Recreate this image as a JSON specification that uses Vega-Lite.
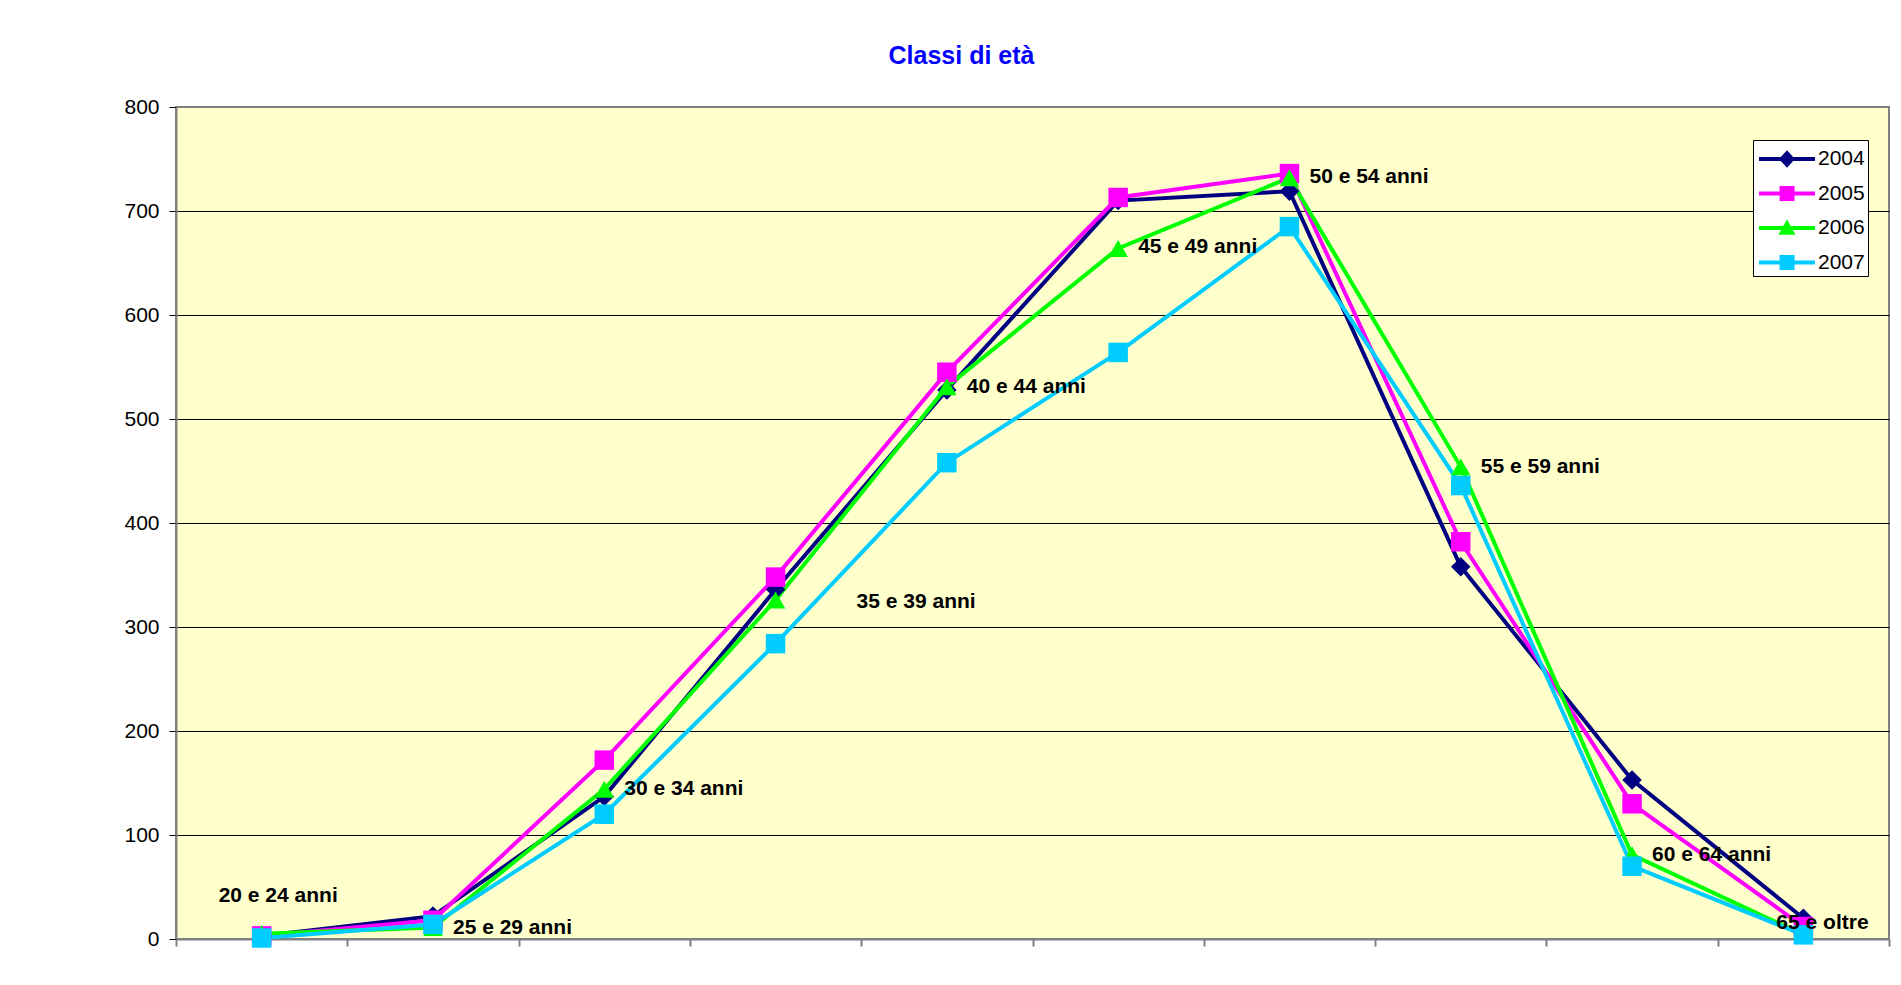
{
  "$schema": "https://vega.github.io/schema/vega-lite/v6.json",
  "width": 1713,
  "height": 832,
  "autosize": {"type": "none"},
  "padding": {"left": 176, "top": 107, "right": 12, "bottom": 46},
  "background": "white",
  "title": {"text": "Classi di età", "color": "#0000FF", "font": "Liberation Sans", "fontSize": 25, "fontWeight": "bold", "anchor": "middle", "dx": -71, "offset": 27},
  "config": {
    "view": {"stroke": "#808080", "strokeWidth": 2, "fill": "#FFFFCC"},
    "font": "Liberation Sans"
  },
  "datasets": {
    "series": [
      {"classe": "20 e 24 anni", "anno": "2004", "valore": 3},
      {"classe": "25 e 29 anni", "anno": "2004", "valore": 22},
      {"classe": "30 e 34 anni", "anno": "2004", "valore": 137},
      {"classe": "35 e 39 anni", "anno": "2004", "valore": 336},
      {"classe": "40 e 44 anni", "anno": "2004", "valore": 528},
      {"classe": "45 e 49 anni", "anno": "2004", "valore": 710},
      {"classe": "50 e 54 anni", "anno": "2004", "valore": 719},
      {"classe": "55 e 59 anni", "anno": "2004", "valore": 358},
      {"classe": "60 e 64 anni", "anno": "2004", "valore": 153},
      {"classe": "65 e oltre", "anno": "2004", "valore": 20},
      {"classe": "20 e 24 anni", "anno": "2005", "valore": 3},
      {"classe": "25 e 29 anni", "anno": "2005", "valore": 18},
      {"classe": "30 e 34 anni", "anno": "2005", "valore": 172},
      {"classe": "35 e 39 anni", "anno": "2005", "valore": 348},
      {"classe": "40 e 44 anni", "anno": "2005", "valore": 545},
      {"classe": "45 e 49 anni", "anno": "2005", "valore": 713},
      {"classe": "50 e 54 anni", "anno": "2005", "valore": 736},
      {"classe": "55 e 59 anni", "anno": "2005", "valore": 382},
      {"classe": "60 e 64 anni", "anno": "2005", "valore": 130},
      {"classe": "65 e oltre", "anno": "2005", "valore": 12},
      {"classe": "20 e 24 anni", "anno": "2006", "valore": 5},
      {"classe": "25 e 29 anni", "anno": "2006", "valore": 11},
      {"classe": "30 e 34 anni", "anno": "2006", "valore": 144},
      {"classe": "35 e 39 anni", "anno": "2006", "valore": 326},
      {"classe": "40 e 44 anni", "anno": "2006", "valore": 531},
      {"classe": "45 e 49 anni", "anno": "2006", "valore": 664},
      {"classe": "50 e 54 anni", "anno": "2006", "valore": 732},
      {"classe": "55 e 59 anni", "anno": "2006", "valore": 454},
      {"classe": "60 e 64 anni", "anno": "2006", "valore": 81},
      {"classe": "65 e oltre", "anno": "2006", "valore": 4},
      {"classe": "20 e 24 anni", "anno": "2007", "valore": 1},
      {"classe": "25 e 29 anni", "anno": "2007", "valore": 14},
      {"classe": "30 e 34 anni", "anno": "2007", "valore": 120},
      {"classe": "35 e 39 anni", "anno": "2007", "valore": 284},
      {"classe": "40 e 44 anni", "anno": "2007", "valore": 458},
      {"classe": "45 e 49 anni", "anno": "2007", "valore": 564},
      {"classe": "50 e 54 anni", "anno": "2007", "valore": 685},
      {"classe": "55 e 59 anni", "anno": "2007", "valore": 436},
      {"classe": "60 e 64 anni", "anno": "2007", "valore": 70},
      {"classe": "65 e oltre", "anno": "2007", "valore": 4}
    ],
    "labels": [
      {"classe": "20 e 24 anni", "etichetta": "20 e 24 anni", "valore": 41},
      {"classe": "25 e 29 anni", "etichetta": "25 e 29 anni", "valore": 11},
      {"classe": "30 e 34 anni", "etichetta": "30 e 34 anni", "valore": 144},
      {"classe": "35 e 39 anni", "etichetta": "35 e 39 anni", "valore": 324},
      {"classe": "40 e 44 anni", "etichetta": "40 e 44 anni", "valore": 531},
      {"classe": "45 e 49 anni", "etichetta": "45 e 49 anni", "valore": 665},
      {"classe": "50 e 54 anni", "etichetta": "50 e 54 anni", "valore": 733},
      {"classe": "55 e 59 anni", "etichetta": "55 e 59 anni", "valore": 454},
      {"classe": "60 e 64 anni", "etichetta": "60 e 64 anni", "valore": 81},
      {"classe": "65 e oltre", "etichetta": "65 e oltre", "valore": 15}
    ]
  },
  "encoding": {
    "x": {
      "field": "classe", "type": "nominal",
      "sort": ["20 e 24 anni", "25 e 29 anni", "30 e 34 anni", "35 e 39 anni", "40 e 44 anni", "45 e 49 anni", "50 e 54 anni", "55 e 59 anni", "60 e 64 anni", "65 e oltre"],
      "scale": {"type": "band", "paddingInner": 0, "paddingOuter": 0},
      "axis": {"title": null, "labels": false, "tickBand": "extent", "grid": false, "domainColor": "#808080", "domainWidth": 2, "tickColor": "#808080", "tickWidth": 2, "tickSize": 7}
    },
    "y": {
      "field": "valore", "type": "quantitative",
      "scale": {"domain": [0, 800], "nice": false},
      "axis": {
        "title": null, "values": [0, 100, 200, 300, 400, 500, 600, 700, 800],
        "grid": true, "gridColor": {"condition": {"test": "datum.value === 800", "value": "#808080"}, "value": "#000000"}, "gridWidth": 1,
        "domainColor": "#808080", "domainWidth": 2, "tickColor": "#000000", "tickWidth": 1, "tickSize": 7,
        "labelFontSize": 21, "labelFont": "Liberation Sans", "labelColor": "#000000", "labelPadding": 10
      }
    }
  },
  "layer": [
    {
      "data": {"name": "series"},
      "mark": {"type": "line", "strokeWidth": 4},
      "encoding": {
        "color": {"field": "anno", "type": "nominal", "scale": {"domain": ["2004", "2005", "2006", "2007"], "range": ["#000080", "#FF00FF", "#00FF00", "#00CCFF"]}, "legend": null}
      }
    },
    {
      "data": {"name": "series"},
      "mark": {"type": "point", "filled": true, "size": 380, "opacity": 1},
      "encoding": {
        "color": {"field": "anno", "type": "nominal", "scale": {"domain": ["2004", "2005", "2006", "2007"], "range": ["#000080", "#FF00FF", "#00FF00", "#00CCFF"]}, "legend": null},
        "shape": {"field": "anno", "type": "nominal", "scale": {"domain": ["2004", "2005", "2006", "2007"], "range": ["diamond", "square", "triangle-up", "square"]}, "legend": null}
      }
    },
    {
      "data": {"name": "series"},
      "mark": {"type": "point", "filled": true, "size": 1024, "opacity": 0, "strokeWidth": 0},
      "encoding": {
        "color": {"field": "anno", "type": "nominal", "scale": {"domain": ["2004", "2005", "2006", "2007"], "range": ["#000080", "#FF00FF", "#00FF00", "#00CCFF"]},
          "legend": {"title": null, "orient": "none", "legendX": 1577, "legendY": 33, "fillColor": "white", "strokeColor": "#000000", "padding": 3, "labelFontSize": 21, "labelFont": "Liberation Sans", "labelColor": "#000000", "labelOffset": 30, "labelExpr": "datum.label + '\u00a0\u00a0'", "symbolSize": 1024, "symbolStrokeWidth": 0, "rowPadding": 8.5, "symbolOpacity": 1}},
        "shape": {"field": "anno", "type": "nominal", "scale": {"domain": ["2004", "2005", "2006", "2007"], "range": [
          "M-0.8125,-0.125H2.6875V0.125H-0.8125Z M0.9375,-0.55L1.4375,0L0.9375,0.55L0.4375,0Z",
          "M-0.8125,-0.125H2.6875V0.125H-0.8125Z M0.47,-0.47H1.41V0.47H0.47Z",
          "M-0.8125,-0.125H2.6875V0.125H-0.8125Z M0.9375,-0.55L1.47,0.42H0.405Z",
          "M-0.8125,-0.125H2.6875V0.125H-0.8125Z M0.47,-0.47H1.41V0.47H0.47Z"]},
          "legend": {"title": null, "orient": "none", "legendX": 1577, "legendY": 33, "fillColor": "white", "strokeColor": "#000000", "padding": 3, "labelFontSize": 21, "labelFont": "Liberation Sans", "labelColor": "#000000", "labelOffset": 30, "labelExpr": "datum.label + '\u00a0\u00a0'", "symbolSize": 1024, "symbolStrokeWidth": 0, "rowPadding": 8.5, "symbolOpacity": 1}}
      }
    },
    {
      "data": {"name": "labels"},
      "transform": [{"filter": {"field": "etichetta", "oneOf": ["25 e 29 anni", "30 e 34 anni", "40 e 44 anni", "45 e 49 anni", "50 e 54 anni", "55 e 59 anni", "60 e 64 anni"]}}],
      "mark": {"type": "text", "align": "left", "baseline": "middle", "dx": 20, "fontSize": 21, "fontWeight": "bold", "font": "Liberation Sans", "color": "#000000"},
      "encoding": {"text": {"field": "etichetta"}}
    },
    {
      "data": {"name": "labels"},
      "transform": [{"filter": {"field": "etichetta", "equal": "20 e 24 anni"}}],
      "mark": {"type": "text", "align": "left", "baseline": "middle", "dx": -43, "fontSize": 21, "fontWeight": "bold", "font": "Liberation Sans", "color": "#000000"},
      "encoding": {"text": {"field": "etichetta"}}
    },
    {
      "data": {"name": "labels"},
      "transform": [{"filter": {"field": "etichetta", "equal": "35 e 39 anni"}}],
      "mark": {"type": "text", "align": "left", "baseline": "middle", "dx": 81, "fontSize": 21, "fontWeight": "bold", "font": "Liberation Sans", "color": "#000000"},
      "encoding": {"text": {"field": "etichetta"}}
    },
    {
      "data": {"name": "labels"},
      "transform": [{"filter": {"field": "etichetta", "equal": "65 e oltre"}}],
      "mark": {"type": "text", "align": "left", "baseline": "middle", "dx": -27, "fontSize": 21, "fontWeight": "bold", "font": "Liberation Sans", "color": "#000000"},
      "encoding": {"text": {"field": "etichetta"}}
    }
  ],
  "resolve": {"scale": {"color": "independent", "shape": "independent"}, "legend": {"color": "independent", "shape": "independent"}}
}
